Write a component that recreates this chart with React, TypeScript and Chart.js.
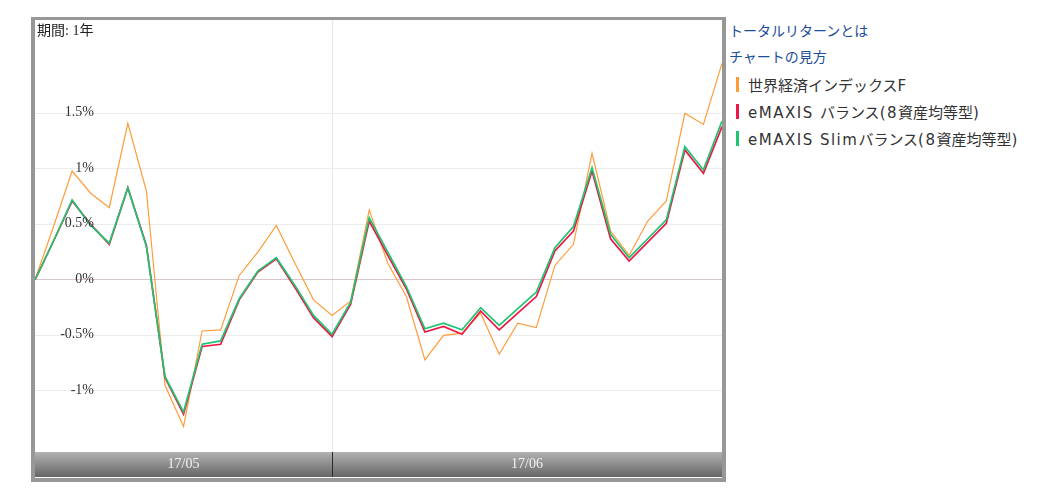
import React, { useEffect, useRef } from 'react';
import { Chart, registerables } from 'chart.js';

Chart.register(...registerables);

// ---- data ----
const categories = [
  '1', '2', '3', '4', '5', '6', '7', '8', '9', '10',
  '11', '12', '13', '14', '15', '16', '17', '18', '19', '20',
  '21', '22', '23', '24', '25', '26', '27', '28', '29', '30',
  '31', '32', '33', '34', '35', '36', '37', '38',
];
const monthLabels = ['17/05', '17/06'];
const monthStarts = [0, 16];
const yTickValues = [-1, -0.5, 0, 0.5, 1, 1.5];
const yMin = -1.55;
const yMax = 2.34;
const periodLabel = '期間: 1年';
const linkLabels = ['トータルリターンとは', 'チャートの見方'];
const seriesNames = ['世界経済インデックスF', 'eMAXIS バランス(8資産均等型)', 'eMAXIS Slimバランス(8資産均等型)'];
const seriesColors = ['#ff9c3a', '#ee1646', '#1ec472'];

const worldEconomyIndexF = [
  0, 0.48, 0.98, 0.78, 0.65, 1.41, 0.80, -0.95, -1.32, -0.46,
  -0.45, 0.04, 0.25, 0.49, 0.15, -0.18, -0.32, -0.19, 0.63, 0.15,
  -0.15, -0.72, -0.50, -0.48, -0.30, -0.67, -0.39, -0.43, 0.13, 0.32,
  1.14, 0.44, 0.22, 0.53, 0.71, 1.50, 1.40, 1.95,
];
const emaxisBalance = [
  0, 0.35, 0.71, 0.50, 0.32, 0.83, 0.31, -0.88, -1.21, -0.60,
  -0.58, -0.18, 0.07, 0.19, -0.07, -0.34, -0.51, -0.22, 0.53, 0.22,
  -0.08, -0.47, -0.42, -0.49, -0.28, -0.45, -0.30, -0.15, 0.26, 0.44,
  0.98, 0.37, 0.17, 0.34, 0.51, 1.17, 0.96, 1.38,
];
const emaxisSlimBalance = [
  0, 0.35, 0.72, 0.49, 0.33, 0.83, 0.30, -0.87, -1.19, -0.58,
  -0.55, -0.17, 0.08, 0.20, -0.05, -0.32, -0.49, -0.20, 0.56, 0.25,
  -0.06, -0.44, -0.39, -0.45, -0.25, -0.41, -0.26, -0.11, 0.29, 0.48,
  1.01, 0.41, 0.20, 0.37, 0.54, 1.20, 0.99, 1.43,
];

const overlayPlugin = {
  id: 'overlay',
  afterDatasetsDraw(chart: any) {
    const { ctx, chartArea, scales } = chart;
    const y = scales.y;
    ctx.save();
    ctx.font = '14px "Liberation Serif", serif';
    ctx.fillStyle = '#333333';
    ctx.textAlign = 'right';
    ctx.textBaseline = 'alphabetic';
    yTickValues.forEach((v) => {
      const py = y.getPixelForValue(v);
      ctx.fillText(`${v}%`, chartArea.left + 59, py + 3);
    });
    ctx.restore();
  },
  afterDraw(chart: any) {
    const { ctx, chartArea, scales } = chart;
    const x = scales.x;
    const top = chartArea.bottom;
    const bottom = chart.height;
    ctx.save();
    const g = ctx.createLinearGradient(0, top, 0, bottom);
    g.addColorStop(0, '#b2b2b2');
    g.addColorStop(1, '#666666');
    ctx.fillStyle = g;
    ctx.fillRect(chartArea.left, top, chartArea.right - chartArea.left, bottom - top);
    ctx.strokeStyle = '#2a2a2a';
    ctx.lineWidth = 1;
    monthStarts.forEach((idx) => {
      if (idx === 0) return;
      const px = Math.round(x.getPixelForValue(idx)) + 0.5;
      ctx.beginPath();
      ctx.moveTo(px, top);
      ctx.lineTo(px, bottom);
      ctx.stroke();
    });
    ctx.font = '14px "Liberation Serif", serif';
    ctx.fillStyle = '#f2f2f2';
    ctx.textAlign = 'center';
    ctx.textBaseline = 'middle';
    monthLabels.forEach((lab, i) => {
      const s = x.getPixelForValue(monthStarts[i]);
      const e = i + 1 < monthStarts.length ? x.getPixelForValue(monthStarts[i + 1]) : chartArea.right;
      ctx.fillText(lab, (s + e) / 2, top + (bottom - top) / 2);
    });
    ctx.restore();
  },
};

function ReturnChart() {
  const ref = useRef<HTMLCanvasElement | null>(null);
  useEffect(() => {
    if (!ref.current) return;
    const chart = new Chart(ref.current, {
      type: 'line',
      data: {
        labels: categories,
        datasets: [
          { label: seriesNames[0], data: worldEconomyIndexF, borderColor: seriesColors[0], borderWidth: 1.2, order: 3 },
          { label: seriesNames[1], data: emaxisBalance, borderColor: seriesColors[1], borderWidth: 1.7, order: 2 },
          { label: seriesNames[2], data: emaxisSlimBalance, borderColor: seriesColors[2], borderWidth: 1.7, order: 1 },
        ],
      },
      options: {
        responsive: false,
        animation: false,
        layout: { padding: { left: 0, right: 0, top: 0, bottom: 25 } },
        plugins: { legend: { display: false }, tooltip: { enabled: false } },
        elements: { point: { radius: 0 }, line: { tension: 0 } },
        scales: {
          x: {
            type: 'category',
            offset: false,
            ticks: { display: false },
            border: { display: false },
            grid: {
              drawTicks: false,
              color: (c: any) => (c.tick && c.tick.value === monthStarts[1] ? '#e8e8e8' : 'rgba(0,0,0,0)'),
            },
          },
          y: {
            min: yMin,
            max: yMax,
            afterBuildTicks: (s: any) => {
              s.ticks = yTickValues.map((v) => ({ value: v }));
            },
            ticks: { display: false },
            border: { display: false },
            grid: {
              drawTicks: false,
              color: (c: any) => (c.tick && c.tick.value === 0 ? '#dbc5ca' : '#ececec'),
            },
          },
        },
      } as any,
      plugins: [overlayPlugin],
    });
    return () => chart.destroy();
  }, []);
  return <canvas ref={ref} width={687} height={457} style={{ display: 'block', width: 687, height: 457 }} />;
}

// split text into ASCII / non-ASCII runs so the Latin parts get a wider face
function MixedText({ text }: { text: string }) {
  const runs = text.match(/[\x00-\x7f]+|[^\x00-\x7f]+/g) || [];
  return (
    <>
      {runs.map((r, i) =>
        /^[\x00-\x7f]+$/.test(r) ? (
          <span key={i} style={{ fontFamily: '"DejaVu Sans", sans-serif', letterSpacing: '1.5px', fontSize: 15 }}>
            {r}
          </span>
        ) : (
          <span key={i}>{r}</span>
        ),
      )}
    </>
  );
}

export default function App() {
  const legendTops = [62.5, 89.5, 116.5];
  return (
    <div style={{ position: 'relative', width: 1030, height: 485 }}>
      <div
        style={{
          position: 'absolute',
          left: 23,
          top: 9,
          width: 687,
          height: 458,
          borderStyle: 'solid',
          borderColor: '#979797',
          borderWidth: '3px 4px 4px 4px',
          background: '#ffffff',
        }}
      >
        <ReturnChart />
        <div
          style={{
            position: 'absolute',
            left: 2,
            top: 3,
            fontFamily: '"Liberation Serif", "Noto Sans CJK JP", serif',
            fontSize: 14,
            lineHeight: '16px',
            color: '#222222',
          }}
        >
          {periodLabel}
        </div>
      </div>
      {linkLabels.map((t, i) => (
        <div
          key={t}
          style={{
            position: 'absolute',
            left: 721,
            top: 9 + i * 26,
            height: 27,
            lineHeight: '27px',
            fontFamily: '"Noto Sans CJK JP", sans-serif',
            fontSize: 14,
            color: '#1b4d9b',
            whiteSpace: 'nowrap',
          }}
        >
          {t}
        </div>
      ))}
      {seriesNames.map((n, i) => (
        <div
          key={n}
          style={{
            position: 'absolute',
            left: 728,
            top: legendTops[i],
            height: 28,
            display: 'flex',
            alignItems: 'center',
            fontFamily: '"Noto Sans CJK JP", sans-serif',
            fontSize: 15,
            color: '#333333',
            whiteSpace: 'nowrap',
          }}
        >
          <span style={{ display: 'inline-block', width: 3, height: 15, background: seriesColors[i], marginRight: 9 }} />
          <span>
            <MixedText text={n} />
          </span>
        </div>
      ))}
    </div>
  );
}
